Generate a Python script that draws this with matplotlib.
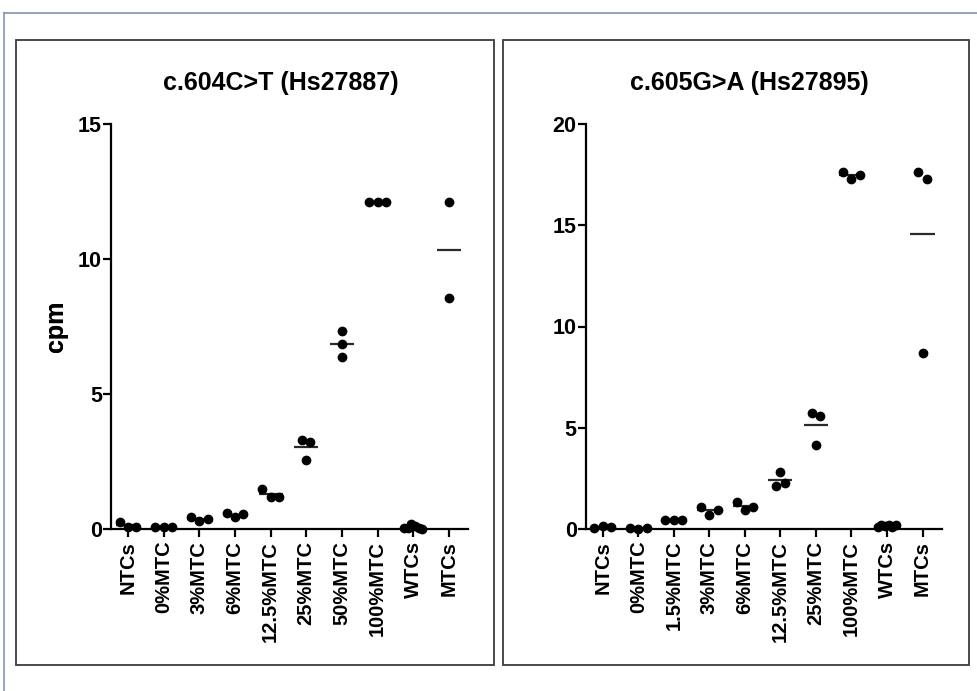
import numpy as np
import matplotlib
matplotlib.use("Agg")
import matplotlib.pyplot as plt
from matplotlib.patches import Rectangle
from matplotlib.lines import Line2D

plt.rcParams['font.family'] = ['Liberation Sans', 'DejaVu Sans']
plt.rcParams['font.weight'] = 'bold'

# ---------------- data ----------------
title_left = "c.604C>T (Hs27887)"
cats_left = ["NTCs", "0%MTC", "3%MTC", "6%MTC", "12.5%MTC", "25%MTC",
             "50%MTC", "100%MTC", "WTCs", "MTCs"]
vals_left = [
    [0.26, 0.06, 0.07],
    [0.06, 0.06, 0.06],
    [0.46, 0.28, 0.36],
    [0.60, 0.43, 0.54],
    [1.48, 1.19, 1.19],
    [3.30, 3.23, 2.55],
    [7.34, 6.85, 6.38],
    [12.10, 12.10, 12.10],
    [0.02, 0.05, 0.20, 0.12, 0.03, 0.00],
    [12.10, 8.57],
]
yticks_left = [0, 5, 10, 15]

title_right = "c.605G>A (Hs27895)"
cats_right = ["NTCs", "0%MTC", "1.5%MTC", "3%MTC", "6%MTC", "12.5%MTC",
              "25%MTC", "100%MTC", "WTCs", "MTCs"]
vals_right = [
    [0.05, 0.15, 0.08],
    [0.05, 0.00, 0.05],
    [0.43, 0.43, 0.43],
    [1.11, 0.71, 0.96],
    [1.33, 0.95, 1.11],
    [2.80, 2.10, 2.29],
    [5.74, 5.59, 4.15],
    [17.65, 17.27, 17.48],
    [0.10, 0.20, 0.15, 0.22, 0.12, 0.18],
    [17.65, 17.27, 8.71],
]
yticks_right = [0, 5, 10, 15, 20]

ylabel = "cpm"

# ---------------- figure ----------------
W, H = 977, 691
fig = plt.figure(figsize=(W / 100, H / 100), dpi=100)

def px_rect(x0, y0, x1, y1):
    return [x0 / W, 1 - y1 / H, (x1 - x0) / W, (y1 - y0) / H]

# outer frame
fig.add_artist(Line2D([4 / W, 4 / W], [0, 1 - 13 / H], transform=fig.transFigure,
                      color="#8393b3", lw=1.2))
fig.add_artist(Line2D([4 / W, 1], [1 - 13 / H, 1 - 13 / H], transform=fig.transFigure,
                      color="#8393b3", lw=1.2))
# panel frames
for (x0, x1) in [(16, 494), (503, 969)]:
    r = px_rect(x0, 40, x1, 665)
    fig.add_artist(Rectangle((r[0], r[1]), r[2], r[3], transform=fig.transFigure,
                             fill=False, edgecolor="#3c3c3c", lw=1.3))

MS = 6.0  # marker size in points
D_PX = MS * 100 / 72.0  # marker diameter in pixels


def draw_panel(rect, cats, vals, yticks, ymax, title, title_x):
    ax = fig.add_axes(px_rect(*rect))
    n = len(cats)
    ax.set_xlim(-0.48, n - 1 + 0.54)
    ax.set_ylim(0, ymax)
    ax_w_px = rect[2] - rect[0]
    ax_h_px = rect[3] - rect[1]
    ux = (n - 1 + 0.54 + 0.48) / ax_w_px  # data units per px in x
    py = ax_h_px / ymax  # px per data unit in y
    for i, v in enumerate(vals):
        v = np.asarray(v, dtype=float)
        order = np.argsort(v, kind="stable")
        clusters = []
        cur = [order[0]]
        for a, b in zip(order[:-1], order[1:]):
            if (v[b] - v[a]) * py < D_PX * 0.97:
                cur.append(b)
            else:
                clusters.append(cur)
                cur = [b]
        clusters.append(cur)
        offs = np.zeros(len(v))
        for c in clusters:
            c = sorted(c)
            m = len(c)
            step = min(D_PX, 2.2 * D_PX / max(m - 1, 1))
            for k, idx in enumerate(c):
                offs[idx] = (k - (m - 1) / 2) * step * ux
        mean = v.mean()
        ax.plot([i - 0.34, i + 0.34], [mean, mean], color="#2a2a2a", lw=1.6,
                solid_capstyle="butt", clip_on=False, zorder=2)
        ax.plot(i + offs, v, "o", color="black", ms=MS, mec="black",
                clip_on=False, zorder=3)
    for s in ["top", "right"]:
        ax.spines[s].set_visible(False)
    for s in ["left", "bottom"]:
        ax.spines[s].set_linewidth(1.6)
    ax.set_xticks(range(n))
    ax.set_xticklabels(cats, rotation=90, fontsize=14.5, fontweight="bold")
    ax.set_yticks(yticks)
    ax.set_yticklabels([str(t) for t in yticks], fontsize=15.5, fontweight="bold")
    ax.tick_params(axis="x", length=5.5, width=1.6, pad=3)
    ax.tick_params(axis="y", length=5.5, width=1.6, pad=1)
    ax.set_ylabel(ylabel, fontsize=18, fontweight="bold")
    ax.yaxis.set_label_coords((68 - rect[0]) / ax_w_px, 0.5)
    fig.text(title_x / W, 1 - 83 / H, title, fontsize=18, fontweight="bold",
             ha="center", va="center")
    return ax

draw_panel((111, 124, 468, 529), cats_left, vals_left, yticks_left, 15,
           title_left, 281)
draw_panel((585.7, 124, 941.7, 529), cats_right, vals_right, yticks_right, 20,
           title_right, 749)

fig.savefig("out.png", dpi=100)
